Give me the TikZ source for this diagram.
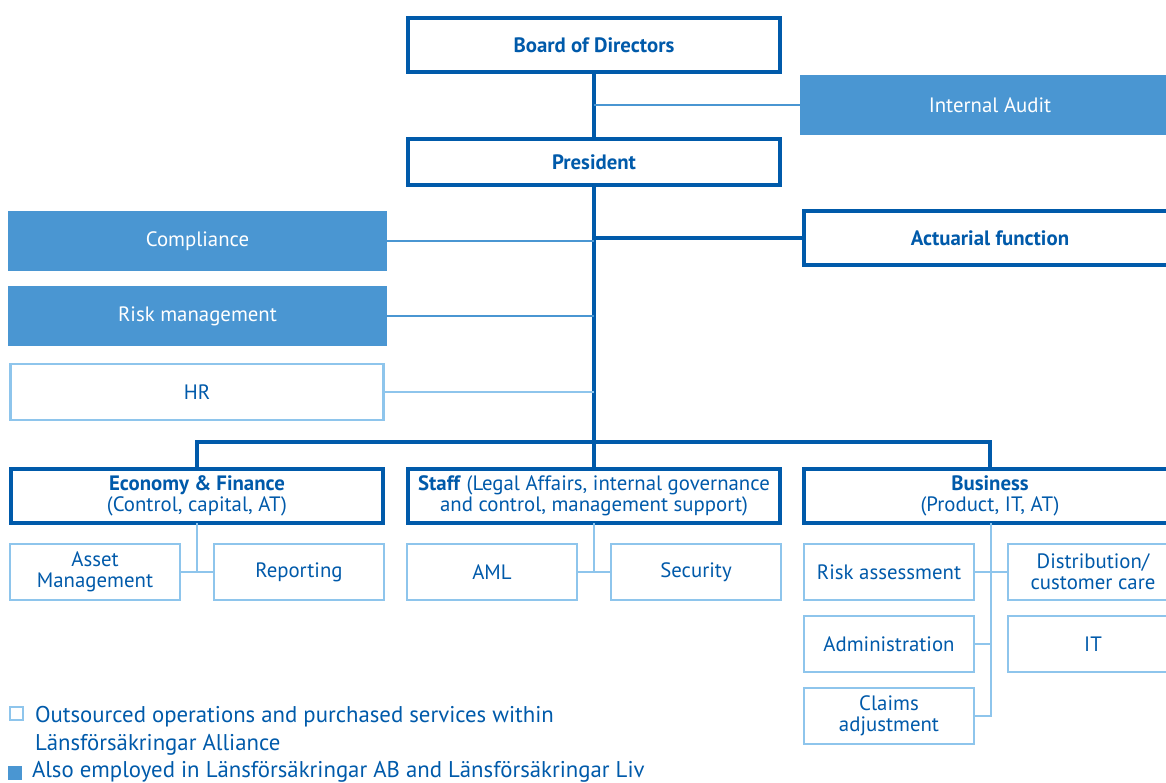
\documentclass[tikz,border=0pt]{standalone}
\usepackage{fontspec}
\setmainfont{PT Sans}
\usepackage{xcolor}
\usepackage{tikz}
\usetikzlibrary{positioning,calc}

\definecolor{dkblue}{HTML}{005AAA}
\definecolor{midblue}{HTML}{4A96D2}
\definecolor{ltblue}{HTML}{8EC5EC}

\tikzset{
  unit/.style={inner sep=0pt, outer sep=0pt, align=center, font=\fontsize{14.8}{15}\selectfont},
  headbox/.style={unit, draw=dkblue, line width=2.8pt, fill=white, text=dkblue,
    minimum width=9.3cm, minimum height=1.35cm},
  ownbox/.style={unit, fill=midblue, text=white, minimum width=9.5cm, minimum height=1.5cm},
  outbox/.style={unit, draw=ltblue, line width=1.8pt, fill=white, text=dkblue,
    minimum width=4.24cm, minimum height=1.39cm},
  dkline/.style={draw=dkblue, line width=2.8pt},
  midline/.style={draw=midblue, line width=1.6pt},
  ltline/.style={draw=ltblue, line width=1.8pt},
  keytext/.style={unit, text=dkblue, font=\fontsize{16.2}{20}\selectfont},
}

\begin{document}
\begin{tikzpicture}[x=0.025cm, y=-0.025cm]

        \useasboundingbox (0,0) rectangle (1166,783);
        \clip (0,0) rectangle (1166,783);

        % Top management
        \node[headbox] (board) at (594,45) {\textbf{Board of Directors}};
        \node[ownbox] (audit) at (990,105) {Internal Audit};
        \node[headbox, minimum height=1.15cm] (pres) at (594,162) {\textbf{President}};

        % Control functions
        \node[ownbox, minimum width=9.475cm] (compl) at (197.5,241) {Compliance};
        \node[headbox] (actu) at (990,238) {\textbf{Actuarial function}};
        \node[ownbox, minimum width=9.475cm] (riskm) at (197.5,316) {Risk management};
        \node[outbox, minimum width=9.33cm] (hr) at (197,392) {HR};

        % Departments
        \node[headbox] (econ) at (197,496) {\textbf{Economy \& Finance}\\(Control, capital, AT)};
        \node[headbox] (staff) at (594,496) {\textbf{Staff} (Legal Affairs, internal governance\\and control, management support)};
        \node[headbox] (biz) at (990,496) {\textbf{Business}\\(Product, IT, AT)};

        % Units
        \node[outbox] (asset) at (95,572) {Asset\\Management};
        \node[outbox] (report) at (299,572) {Reporting};
        \node[outbox] (aml) at (492,572) {AML};
        \node[outbox] (secur) at (696,572) {Security};
        \node[outbox] (riskas) at (889,572) {Risk assessment};
        \node[outbox] (distr) at (1093,572) {Distribution/\\customer care};
        \node[outbox] (admin) at (889,644) {Administration};
        \node[outbox] (it) at (1093,644) {IT};
        \node[outbox] (claims) at (889,716) {Claims\\adjustment};

        % Lines
        \coordinate (bar) at (594,442);
        \coordinate (bizdrop) at ([xshift=0.025cm]biz.south);
        \draw[dkline] (board.south) -- (pres.north);
        \draw[midline] (board.south |- audit.west) -- (audit.west);
        \draw[dkline] (pres.south) -- (staff.north);
        \draw[dkline, line width=2.2pt] (pres.south |- actu.west) -- (actu.west);
        \draw[midline] (compl.east) -- (compl.east -| pres.south);
        \draw[midline] (riskm.east) -- (riskm.east -| pres.south);
        \draw[ltline] (hr.east) -- (hr.east -| pres.south);
        \draw[dkline] (econ.north) |- (bar) -| (biz.north);

        \draw[ltline] (econ.south) -- (econ.south |- asset.east);
        \draw[ltline] (asset.east) -- (report.west);
        \draw[ltline] (staff.south) -- (staff.south |- aml.east);
        \draw[ltline] (aml.east) -- (secur.west);
        \draw[ltline] (bizdrop) |- (claims.east);
        \draw[ltline] (riskas.east) -- (distr.west);
        \draw[ltline] (admin.east) -- (admin.east -| bizdrop);

        % Legend
        \node[unit, draw=ltblue, line width=1.2pt, minimum size=0.34cm] (keyout) at (16.5,713.5) {};
        \node[keytext, anchor=north west, align=left]
          (keyouttxt) at (35,706) {Outsourced operations and purchased services within\\Länsförsäkringar Alliance};
        \node[unit, fill=midblue, minimum size=0.37cm] (keyown) at (15,773) {};
        \node[keytext, anchor=west] (keyowntxt) at (32,772) {Also employed in Länsförsäkringar AB and Länsförsäkringar Liv};

    \end{tikzpicture}
\end{document}
